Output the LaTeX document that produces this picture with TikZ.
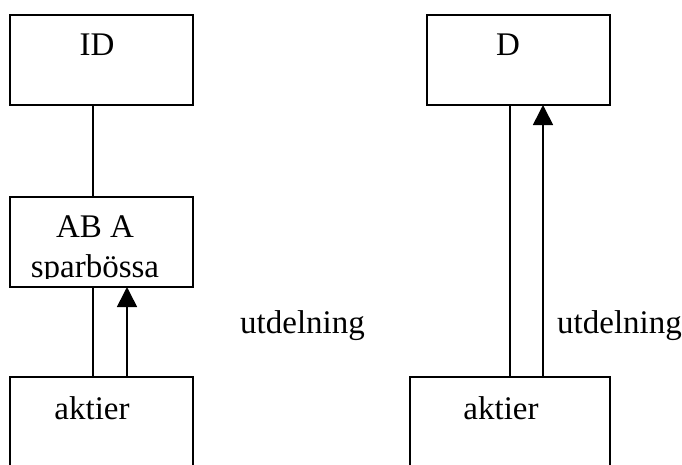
\documentclass[tikz,border=0pt]{standalone}
\usepackage{fontspec}
\setmainfont{Liberation Serif}
\usetikzlibrary{arrows.meta}
\begin{document}
\begin{tikzpicture}[x=1pt,y=-1pt,
  box/.style={draw,line width=1.8pt,minimum width=183pt,minimum height=90pt,inner sep=0pt,outer sep=0pt},
  txt/.style={font=\fontsize{33}{36}\selectfont,inner sep=0pt,anchor=base},
  conn/.style={line width=1.6pt},
  arr/.style={line width=1.6pt,-{Triangle[width=20pt,length=20pt]}}]
\useasboundingbox (0,0) rectangle (682,464);
\clip (0,0) rectangle (682,464);
% boxes
\node[box] (ID) at (101.5,60) {};
\node[box] (AB) at (101.5,242) {};
\node[box] (akL) at (101.5,422) {};
\node[box] (D) at (518.5,60) {};
\node[box,minimum width=200pt] (akR) at (510,422) {};
% texts
\node[txt] (tID) at (97,55) {ID};
\node[txt] (tAB) at (95,237) {AB A};
\begin{scope}
\clip (10,197) rectangle (193,278);
\node[txt] (tspar) at (95,277) {sparbössa};
\end{scope}
\node[txt] (takL) at (92,419) {aktier};
\node[txt] (tD) at (508,55) {D};
\node[txt] (takR) at (501,419) {aktier};
\node[txt,anchor=base west] (utL) at (240,333) {utdelning};
\node[txt,anchor=base west] (utR) at (557,333) {utdelning};
% connectors
\draw[conn] (ID.south -| 93,0) -- (AB.north -| 93,0);
\draw[conn] (AB.south -| 93,0) -- (akL.north -| 93,0);
\draw[arr] (akL.north -| 127,0) -- (AB.south -| 127,0);
\draw[conn] (D.south -| 510,0) -- (akR.north -| 510,0);
\draw[arr] (akR.north -| 543,0) -- (D.south -| 543,0);
\end{tikzpicture}
\end{document}
